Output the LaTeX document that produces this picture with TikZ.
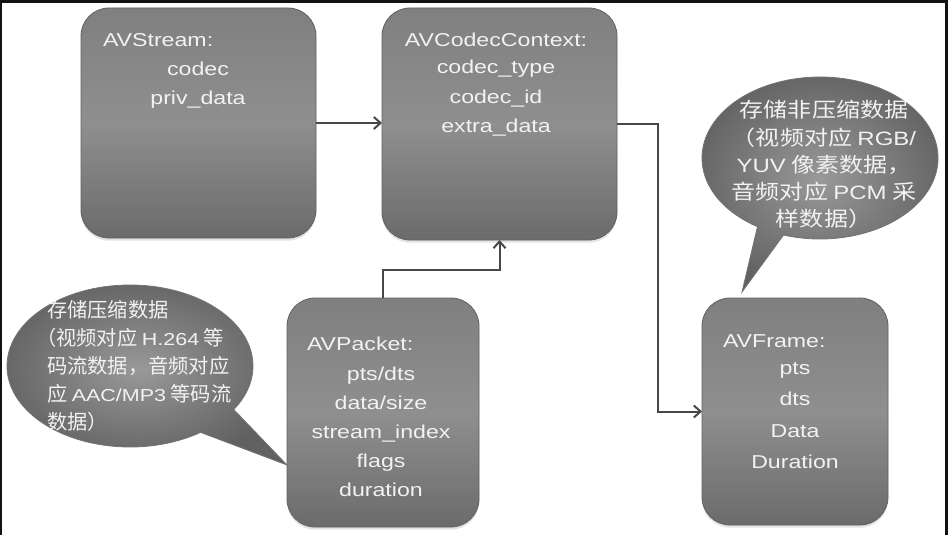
\documentclass[tikz,border=0pt]{standalone}
\usepackage{fontspec}
\setmainfont{Liberation Sans}[FakeStretch=1.24]
\newfontfamily\zhA{Noto Sans CJK SC}
\newfontfamily\zhB{Noto Sans CJK SC}[FakeStretch=1.17]
\usetikzlibrary{arrows.meta,shadows}
\newcommand\latL[1]{{\fontsize{13}{16}\selectfont\rmfamily #1}}
\newcommand\latR[1]{{\fontsize{14.5}{16}\selectfont\rmfamily #1}}
\begin{document}
\begin{tikzpicture}[x=0.75pt,y=-0.75pt,
  box/.style={draw=black!62, line width=0.6pt, rounded corners=21pt, inner sep=0pt, outer sep=0pt,
    top color=black!50, bottom color=black!58, middle color=black!44,
    drop shadow={shadow xshift=0pt, shadow yshift=-2pt, opacity=0.22}},
  callout/.style={draw=black!55, line width=0.6pt, inner color=black!40, outer color=black!62},
  lbl/.style={inner sep=0pt, outer sep=0pt, text=white!95!black, font=\fontsize{14}{16}\selectfont},
  cltA/.style={inner sep=0pt, outer sep=0pt, text=white!95!black, font=\fontsize{15.2}{18}\selectfont\zhA},
  cltB/.style={inner sep=0pt, outer sep=0pt, text=white!95!black, font=\fontsize{15.4}{18}\selectfont\zhB},
  conn/.style={draw=black!72, line width=1.5pt, -{Straight Barb[length=5pt,width=9pt]}}]
\fill[white] (0,0) rectangle (948,535);
\useasboundingbox (0,0) rectangle (948,535);
\fill[black!93] (0,0) rectangle (948,3);
\fill[black!93] (0,0) rectangle (2,535);
\fill[black!93] (945,0) rectangle (948,535);

% callouts
\coordinate (tipL) at (287,465);
\coordinate (tipR) at (742,292);
\path[callout] (130,366) ++(55:123 and 81) arc[start angle=55, end angle=392.5, x radius=123, y radius=81] -- (tipL) -- cycle;
\path[callout] (820,158) ++(122:118 and 81) arc[start angle=122, end angle=468, x radius=118, y radius=81] -- (tipR) -- cycle;

% boxes
\node[box, minimum width=176.25pt, minimum height=172.5pt] (s) at (198.5,123) {};
\node[box, minimum width=176.25pt, minimum height=174pt] (c) at (499.5,124) {};
\node[box, minimum width=144pt, minimum height=171.75pt] (p) at (383,412.5) {};
\node[box, minimum width=139.5pt, minimum height=170.25pt] (f) at (795,411.5) {};

% box texts
\node[lbl, anchor=base west] (s0) at (103,47) {AVStream:};
\node[lbl, anchor=base] (s1) at (198,75) {codec};
\node[lbl, anchor=base] (s2) at (198,104) {priv\_data};

\node[lbl, anchor=base] (c0) at (496,47) {AVCodecContext:};
\node[lbl, anchor=base] (c1) at (496,74) {codec\_type};
\node[lbl, anchor=base] (c2) at (496,103) {codec\_id};
\node[lbl, anchor=base] (c3) at (496,132) {extra\_data};

\node[lbl, anchor=base west] (p0) at (307,350) {AVPacket:};
\node[lbl, anchor=base] (p1) at (381,380) {pts/dts};
\node[lbl, anchor=base] (p2) at (381,409) {data/size};
\node[lbl, anchor=base] (p3) at (381,438) {stream\_index};
\node[lbl, anchor=base] (p4) at (381,467) {flags};
\node[lbl, anchor=base] (p5) at (381,496) {duration};

\node[lbl, anchor=base west] (f0) at (723,347) {AVFrame:};
\node[lbl, anchor=base] (f1) at (795,374) {pts};
\node[lbl, anchor=base] (f2) at (795,405) {dts};
\node[lbl, anchor=base] (f3) at (795,437) {Data};
\node[lbl, anchor=base] (f4) at (795,468) {Duration};

% left callout text
\node[cltA, anchor=base west] (l1) at (47,317) {存储压缩数据};
\node[cltA, anchor=base west] (l2) at (36,345) {（视频对应 \latL{H.264} 等};
\node[cltA, anchor=base west] (l3) at (47,373) {码流数据，音频对应};
\node[cltA, anchor=base west] (l4) at (47,401) {应 \latL{AAC/MP3} 等码流};
\node[cltA, anchor=base west] (l5) at (47,429) {数据）};

% right callout text
\node[cltB, anchor=base] (r1) at (824,117) {存储非压缩数据};
\node[cltB, anchor=base] (r2) at (824,145) {（视频对应 \latR{RGB/}};
\node[cltB, anchor=base] (r3) at (824,172) {\latR{YUV} 像素数据，};
\node[cltB, anchor=base] (r4) at (824,199) {音频对应 \latR{PCM} 采};
\node[cltB, anchor=base] (r5) at (824,226) {样数据）};

% connectors
\coordinate (k1) at (658,124);
\coordinate (k2) at (499.5,270);
\draw[conn] (s.east) -- (s.east -| c.west);
\draw[conn] (c.east) -- (k1) |- (f.west);
\draw[conn] (p.north) |- (k2) -- (c.south);
\end{tikzpicture}
\end{document}
